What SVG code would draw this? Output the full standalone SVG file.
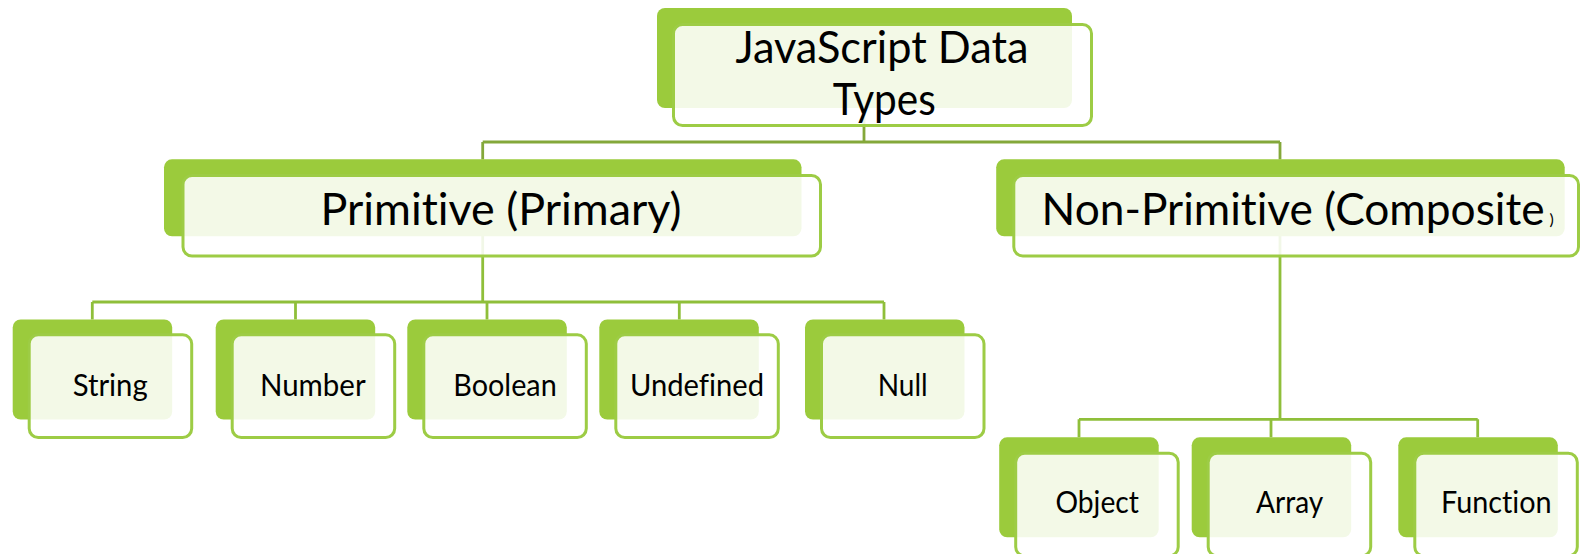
<svg xmlns="http://www.w3.org/2000/svg" width="1581" height="554" viewBox="0 0 1581 554">
<defs>
<style>
.back{fill:#9BCB3C;}
.front{fill:#ffffff;fill-opacity:0.88;stroke:#9DCC45;stroke-width:3;}
.conn0{fill:none;stroke:#84A83A;stroke-width:2.8;}
.conn1{fill:none;stroke:#8FBF3A;stroke-width:2.8;}
.lbl{font-family:Lato,"Open Sans","Noto Sans",sans-serif;fill:#000;text-anchor:middle;font-variant-ligatures:none;font-feature-settings:"liga" 0;}
.big{font-size:45px;}
.small{font-size:30px;}
</style>
</defs>
<rect width="1581" height="554" fill="#ffffff"/>
<g id="connectors">
<path class="conn0" d="M864,108 V142 M482.7,142 H1280 M482.7,142 V159.5 M1280,142 V159.5"/>
<path class="conn1" d="M482.7,236 V302 M92.3,302 H884 M92.3,302 V319.5 M295.5,302 V319.5 M487,302 V319.5 M679.3,302 V319.5 M884,302 V319.5"/>
<path class="conn1" d="M1280,236 V419.3 M1079,419.3 H1477.7 M1079,419.3 V437.3 M1271,419.3 V437.3 M1477.7,419.3 V437.3"/>
</g>
<g id="node-root">
<rect class="back" x="657" y="8" width="415" height="100" rx="8"/>
<rect class="front" x="673.5" y="24.5" width="418" height="101" rx="9"/>
<text class="lbl big"><tspan x="882" y="63.3" textLength="293" lengthAdjust="spacingAndGlyphs">JavaScript Data</tspan><tspan x="884.3" y="115" textLength="103" lengthAdjust="spacingAndGlyphs">Types</tspan></text>
</g>
<g id="node-primitive">
<rect class="back" x="164" y="159.3" width="637.5" height="77" rx="8"/>
<rect class="front" x="183" y="175.5" width="637.5" height="80.5" rx="9"/>
<text class="lbl big" x="501" y="225" textLength="361" lengthAdjust="spacingAndGlyphs">Primitive (Primary)</text>
</g>
<g id="node-nonprimitive">
<rect class="back" x="996.2" y="159.3" width="568.5" height="77" rx="8"/>
<rect class="front" x="1013.8" y="175.5" width="564.7" height="80.5" rx="9"/>
<text class="lbl big" style="text-anchor:start"><tspan x="1041.6" y="225" textLength="503" lengthAdjust="spacingAndGlyphs">Non-Primitive (Composite</tspan><tspan x="1549.5" y="224.5" style="font-size:16px">)</tspan></text>
</g>
<g id="node-string">
<rect class="back" x="12.7" y="319.5" width="159.5" height="100" rx="8"/>
<rect class="front" x="29.2" y="334.8" width="162.5" height="102.7" rx="9"/>
<text class="lbl small" x="110.2" y="396" textLength="75" lengthAdjust="spacingAndGlyphs">String</text>
</g>
<g id="node-number">
<rect class="back" x="215.7" y="319.5" width="159.5" height="100" rx="8"/>
<rect class="front" x="232.2" y="334.8" width="162.5" height="102.7" rx="9"/>
<text class="lbl small" x="312.8" y="396" textLength="105.7" lengthAdjust="spacingAndGlyphs">Number</text>
</g>
<g id="node-boolean">
<rect class="back" x="407.3" y="319.5" width="159.5" height="100" rx="8"/>
<rect class="front" x="423.8" y="334.8" width="162.5" height="102.7" rx="9"/>
<text class="lbl small" x="505" y="396" textLength="103.4" lengthAdjust="spacingAndGlyphs">Boolean</text>
</g>
<g id="node-undefined">
<rect class="back" x="599.3" y="319.5" width="159.5" height="100" rx="8"/>
<rect class="front" x="615.8" y="334.8" width="162.5" height="102.7" rx="9"/>
<text class="lbl small" x="697" y="396" textLength="134" lengthAdjust="spacingAndGlyphs">Undefined</text>
</g>
<g id="node-null">
<rect class="back" x="805" y="319.5" width="159.5" height="100" rx="8"/>
<rect class="front" x="821.5" y="334.8" width="162.5" height="102.7" rx="9"/>
<text class="lbl small" x="902.7" y="396" textLength="50" lengthAdjust="spacingAndGlyphs">Null</text>
</g>
<g id="node-object">
<rect class="back" x="999.2" y="437.3" width="159.5" height="100" rx="8"/>
<rect class="front" x="1015.7" y="453.2" width="162.5" height="102.7" rx="9"/>
<text class="lbl small" x="1097.2" y="513.3" textLength="83.5" lengthAdjust="spacingAndGlyphs">Object</text>
</g>
<g id="node-array">
<rect class="back" x="1191.7" y="437.3" width="159.5" height="100" rx="8"/>
<rect class="front" x="1208.2" y="453.2" width="162.5" height="102.7" rx="9"/>
<text class="lbl small" x="1289.7" y="513.3" textLength="67.3" lengthAdjust="spacingAndGlyphs">Array</text>
</g>
<g id="node-function">
<rect class="back" x="1398.3" y="437.3" width="159.5" height="100" rx="8"/>
<rect class="front" x="1414.8" y="453.2" width="162.5" height="102.7" rx="9"/>
<text class="lbl small" x="1496.3" y="513.3" textLength="110.7" lengthAdjust="spacingAndGlyphs">Function</text>
</g>
</svg>
